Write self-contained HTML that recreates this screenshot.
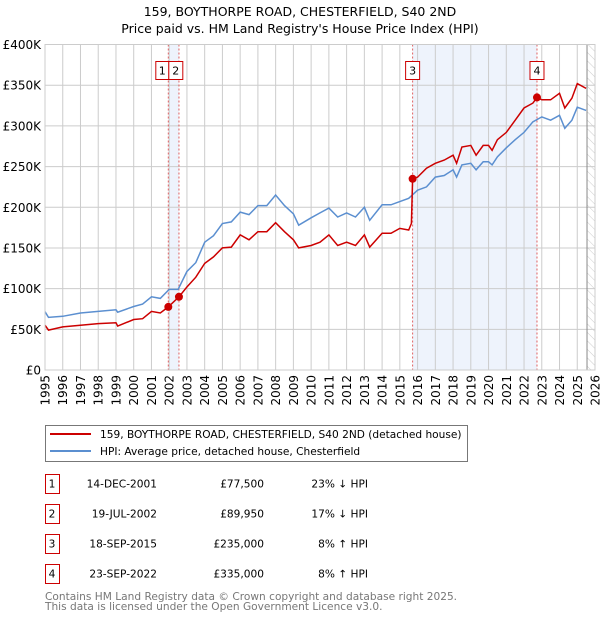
<!DOCTYPE html>
<html><head><meta charset="utf-8"><style>
body{margin:0;width:600px;height:620px;background:#fff;font-family:"Liberation Sans","DejaVu Sans",sans-serif;overflow:hidden;position:relative}
svg{position:absolute;left:0;top:0}
</style></head><body>
<svg id="chart" width="600" height="620" viewBox="0 0 600 620" font-family="DejaVu Sans, Liberation Sans, sans-serif">
<text x="300" y="16" text-anchor="middle" font-size="12.5" fill="#000">159, BOYTHORPE ROAD, CHESTERFIELD, S40 2ND</text>
<text x="300" y="33" text-anchor="middle" font-size="12.5" fill="#000">Price paid vs. HM Land Registry's House Price Index (HPI)</text>
<defs><pattern id="hatch" width="6" height="6" patternUnits="userSpaceOnUse" patternTransform="rotate(-45)"><line x1="0" y1="0" x2="0" y2="6" stroke="#ccc" stroke-width="1"/></pattern></defs>
<g id="plot"></g>
<g>
<rect x="45.5" y="425.5" width="422" height="36" fill="#fff" stroke="#777"/>
<line x1="50" y1="434" x2="91" y2="434" stroke="#cc0000" stroke-width="2"/>
<text x="100" y="438" font-size="10.6">159, BOYTHORPE ROAD, CHESTERFIELD, S40 2ND (detached house)</text>
<line x1="50" y1="451" x2="91" y2="451" stroke="#5b8fd0" stroke-width="2"/>
<text x="100" y="455" font-size="10.6">HPI: Average price, detached house, Chesterfield</text>
</g>
<g id="table" font-size="10.6"></g>
<text x="45" y="600" font-size="10.6" fill="#777">Contains HM Land Registry data © Crown copyright and database right 2025.</text>
<text x="45" y="610" font-size="10.6" fill="#777">This data is licensed under the Open Government Licence v3.0.</text>
</svg>
<script>
const hpiYears=[1995,1995.2,1996,1997,1998,1999,1999.1,2000,2000.5,2001,2001.5,2002,2002.5,2003,2003.5,2004,2004.5,2005,2005.5,2006,2006.5,2007,2007.5,2008,2008.5,2009,2009.3,2010,2010.5,2011,2011.5,2012,2012.5,2013,2013.3,2014,2014.5,2015,2015.5,2016,2016.5,2017,2017.5,2018,2018.2,2018.5,2019,2019.3,2019.7,2020,2020.2,2020.5,2021,2021.5,2022,2022.5,2023,2023.5,2024,2024.3,2024.7,2025,2025.5];
const hpiValues=[71.6,64.7,66,70,72,74,71,78,81,90,88,99,99,121,132,157,165,180,182,194,191,202,202,215,202,192,178,187,193,199,188,193,188,200,184,203,203,207,211,221,225,237,239,246,237,252,254,246,256,256,252,262,273,283,292,305,311,307,313,297,307,323,319];
const priceYears=[1995,1995.2,1996,1997,1998,1999,1999.1,2000,2000.5,2001,2001.5,2001.95,2002.55,2003,2003.5,2004,2004.5,2005,2005.5,2006,2006.5,2007,2007.5,2008,2008.5,2009,2009.3,2010,2010.5,2011,2011.5,2012,2012.5,2013,2013.3,2014,2014.5,2015,2015.5,2015.65,2015.72,2016,2016.5,2017,2017.5,2018,2018.2,2018.5,2019,2019.3,2019.7,2020,2020.2,2020.5,2021,2021.5,2022,2022.5,2022.73,2023,2023.5,2024,2024.3,2024.7,2025,2025.5];
const priceValues=[55,49,53,55,57,58,54,62,63,72,70,77.5,89.95,102,114,131,139,150,151,166,160,170,170,181,170,160,150,153,157,166,153,157,153,166,151,168,168,174,172,180,235,237,248,254,258,264,254,274,276,264,276,276,270,283,292,307,322,328,335,332,332,340,322,334,352,346];
const saleLabels=["1","2","3","4"];
const saleYears=[2001.95,2002.55,2015.72,2022.73];
const saleValues=[77.5,89.95,235,335];
const saleDates=["14-DEC-2001","19-JUL-2002","18-SEP-2015","23-SEP-2022"];
const salePrices=["£77,500","£89,950","£235,000","£335,000"];
const saleDiffs=["23% ↓ HPI","17% ↓ HPI","8% ↑ HPI","8% ↑ HPI"];
const yTicks=[0,50,100,150,200,250,300,350,400];
const yTickLabels=["£0","£50K","£100K","£150K","£200K","£250K","£300K","£350K","£400K"];
const xTicks=[1995,1996,1997,1998,1999,2000,2001,2002,2003,2004,2005,2006,2007,2008,2009,2010,2011,2012,2013,2014,2015,2016,2017,2018,2019,2020,2021,2022,2023,2024,2025,2026];
const X0=45,X1=595,Y0=370,Y1=44.5,T0=1995,T1=2026,V1=400,DATA_END=2025.55;
const NS="http://www.w3.org/2000/svg";
const xs=t=>X0+(t-T0)/(T1-T0)*(X1-X0);
const ys=v=>Y0-v/V1*(Y0-Y1);
const plot=document.getElementById('plot');
function mk(tag,attrs,parent){const e=document.createElementNS(NS,tag);for(const k in attrs)e.setAttribute(k,attrs[k]);(parent||plot).appendChild(e);return e;}
let s=mk('rect',{x:xs(saleYears[0]),y:Y1,width:xs(saleYears[1])-xs(saleYears[0]),height:Y0-Y1,fill:'#eef3fc'});


s=mk('rect',{x:xs(saleYears[2]),y:Y1,width:xs(saleYears[3])-xs(saleYears[2]),height:Y0-Y1,fill:'#eef3fc'});


s=mk('rect',{x:xs(DATA_END),y:Y1,width:X1-xs(DATA_END),height:Y0-Y1,fill:'url(#hatch)'});


yTicks.forEach((v,i)=>{
 const l=mk('line',{x1:X0,x2:X1,y1:ys(v),y2:ys(v),stroke:'#ccc','stroke-width':1});
 
 
 const t=mk('text',{x:X0-4,y:ys(v)+4.5,'text-anchor':'end','font-size':12});
 t.textContent=yTickLabels[i];
 
 
});
xTicks.forEach(y=>{
 const l=mk('line',{x1:xs(y),x2:xs(y),y1:Y1,y2:Y0,stroke:'#ccc','stroke-width':1});
 
 
 const t=mk('text',{x:0,y:0,'text-anchor':'end','font-size':12,transform:`translate(${xs(y)+4.5},${Y0+5}) rotate(-90)`});
 t.textContent=y;
 
 
});
s=mk('line',{x1:xs(DATA_END),x2:xs(DATA_END),y1:Y1,y2:Y0,stroke:'#888','stroke-width':1});


saleYears.forEach((y,i)=>{
 const l=mk('line',{x1:xs(y),x2:xs(y),y1:Y1,y2:Y0,stroke:'#e06060','stroke-width':1,'stroke-dasharray':'2,2'});
 
 
});
const hp=mk('path',{d:hpiYears.map((y,i)=>(i?'L':'M')+xs(y).toFixed(1)+','+ys(hpiValues[i]).toFixed(1)).join(''),fill:'none',stroke:'#5b8fd0','stroke-width':1.5});


const pp=mk('path',{d:priceYears.map((y,i)=>(i?'L':'M')+xs(y).toFixed(1)+','+ys(priceValues[i]).toFixed(1)).join(''),fill:'none',stroke:'#cc0000','stroke-width':1.5});


const firstEdge=xs(saleYears[0])+0.5;
saleYears.forEach((y,i)=>{
 const c=mk('circle',{cx:xs(y),cy:ys(saleValues[i]),r:4,fill:'#cc0000'});
 
 
 const bx=(i===0)?firstEdge-13:(i===1?firstEdge:xs(y)-7);
 const bw=(i===0)?13:14;
 const r=mk('rect',{x:bx,y:61.5,width:bw,height:18,fill:'#fff',stroke:'#cc0000','stroke-width':1});
 
 
 const t=mk('text',{x:bx+bw/2,y:74.5,'text-anchor':'middle','font-size':11});
 t.textContent=saleLabels[i];
 
 
});
mk('rect',{x:X0,y:Y1,width:X1-X0,height:Y0-Y1,fill:'none',stroke:'#ccc'});
const tb=document.getElementById('table');
saleLabels.forEach((lab,i)=>{
 const cy=483+i*30;
 const r=mk('rect',{x:45.5,y:cy-8.5,width:14,height:19,fill:'#fff',stroke:'#cc0000'},tb);
 
 
 const cells=[[lab,52,'middle'],[saleDates[i],157,'end'],[salePrices[i],264,'end'],[saleDiffs[i],368,'end']];
 cells.forEach((c,j)=>{
  const t=mk('text',{x:c[1],y:cy+4.5,'text-anchor':c[2],'font-size':10.6},tb);
  t.textContent=c[0];
  
  
 });
});
</script>
</body></html>
